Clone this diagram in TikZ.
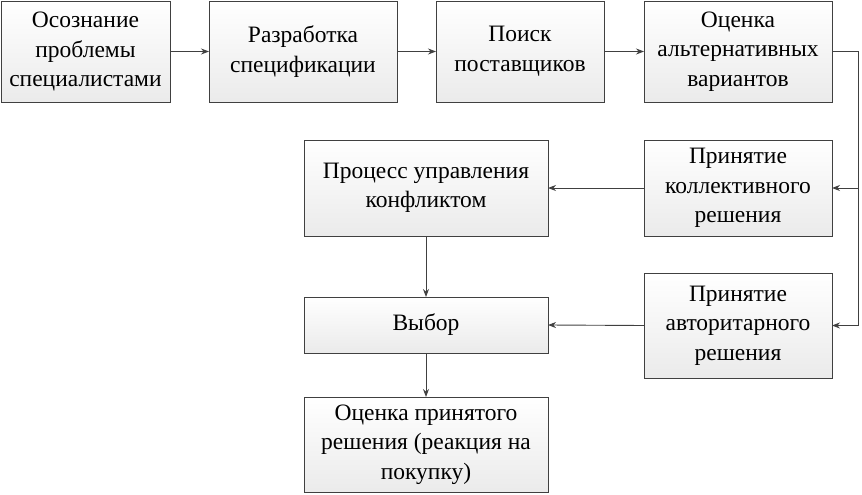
\documentclass[tikz,border=0pt]{standalone}
\usepackage{fontspec}
\setmainfont{Liberation Serif}
\usetikzlibrary{shadows,arrows.meta}
\begin{document}
\begin{tikzpicture}[x=1pt,y=-1pt,
  box/.style={draw=black!75, line width=0.9pt, top color=white, bottom color=black!8,
    drop shadow={shadow xshift=1.2pt, shadow yshift=-1.2pt, fill=black!35, opacity=0.6},
    align=center, inner sep=0pt, outer sep=0pt,
    font=\fontsize{23.5}{29.5}\selectfont},
  conn/.style={draw=black!75, line width=0.9pt, -{Stealth[length=8pt,width=6pt]}},
  line/.style={draw=black!75, line width=0.9pt}]
\useasboundingbox (0,0) rectangle (862,495);
\node[box, minimum width=169pt, minimum height=101pt] (b1) at (85.5,51.5) {Осознание\\проблемы\\специалистами};
\node[box, minimum width=188pt, minimum height=101pt] (b2) at (303,51.5) {Разработка\\спецификации};
\node[box, minimum width=168pt, minimum height=101pt] (b3) at (520,51.5) {Поиск\\поставщиков};
\node[box, minimum width=188pt, minimum height=101pt] (b4) at (738,51.5) {Оценка\\альтернативных\\вариантов};
\node[box, minimum width=188pt, minimum height=96pt] (b5) at (738,188) {Принятие\\коллективного\\решения};
\node[box, minimum width=244pt, minimum height=96pt] (b6) at (426,188) {Процесс управления\\конфликтом};
\node[box, minimum width=188pt, minimum height=105pt] (b7) at (738,325.5) {Принятие\\авторитарного\\решения};
\node[box, minimum width=244pt, minimum height=56pt] (b8) at (426,325) {Выбор};
\node[box, minimum width=244pt, minimum height=95pt] (b9) at (426,444.5) {Оценка принятого\\решения (реакция на\\покупку)};
\coordinate (c1) at (858,51.5);
\coordinate (c2) at (858,188);
\draw[conn] (b1) -- (b2);
\draw[conn] (b2) -- (b3);
\draw[conn] (b3) -- (b4);
\draw[line] (b4.east) -- (c1);
\draw[conn] (c1) |- (b5.east);
\draw[conn] (c2) |- (b7.east);
\draw[conn] (b5.west) -- (b6.east);
\draw[conn] (b7.west) -- (b8.east);
\draw[conn] (b6.south) -- (b8.north);
\draw[conn] (b8.south) -- (b9.north);
\end{tikzpicture}
\end{document}
